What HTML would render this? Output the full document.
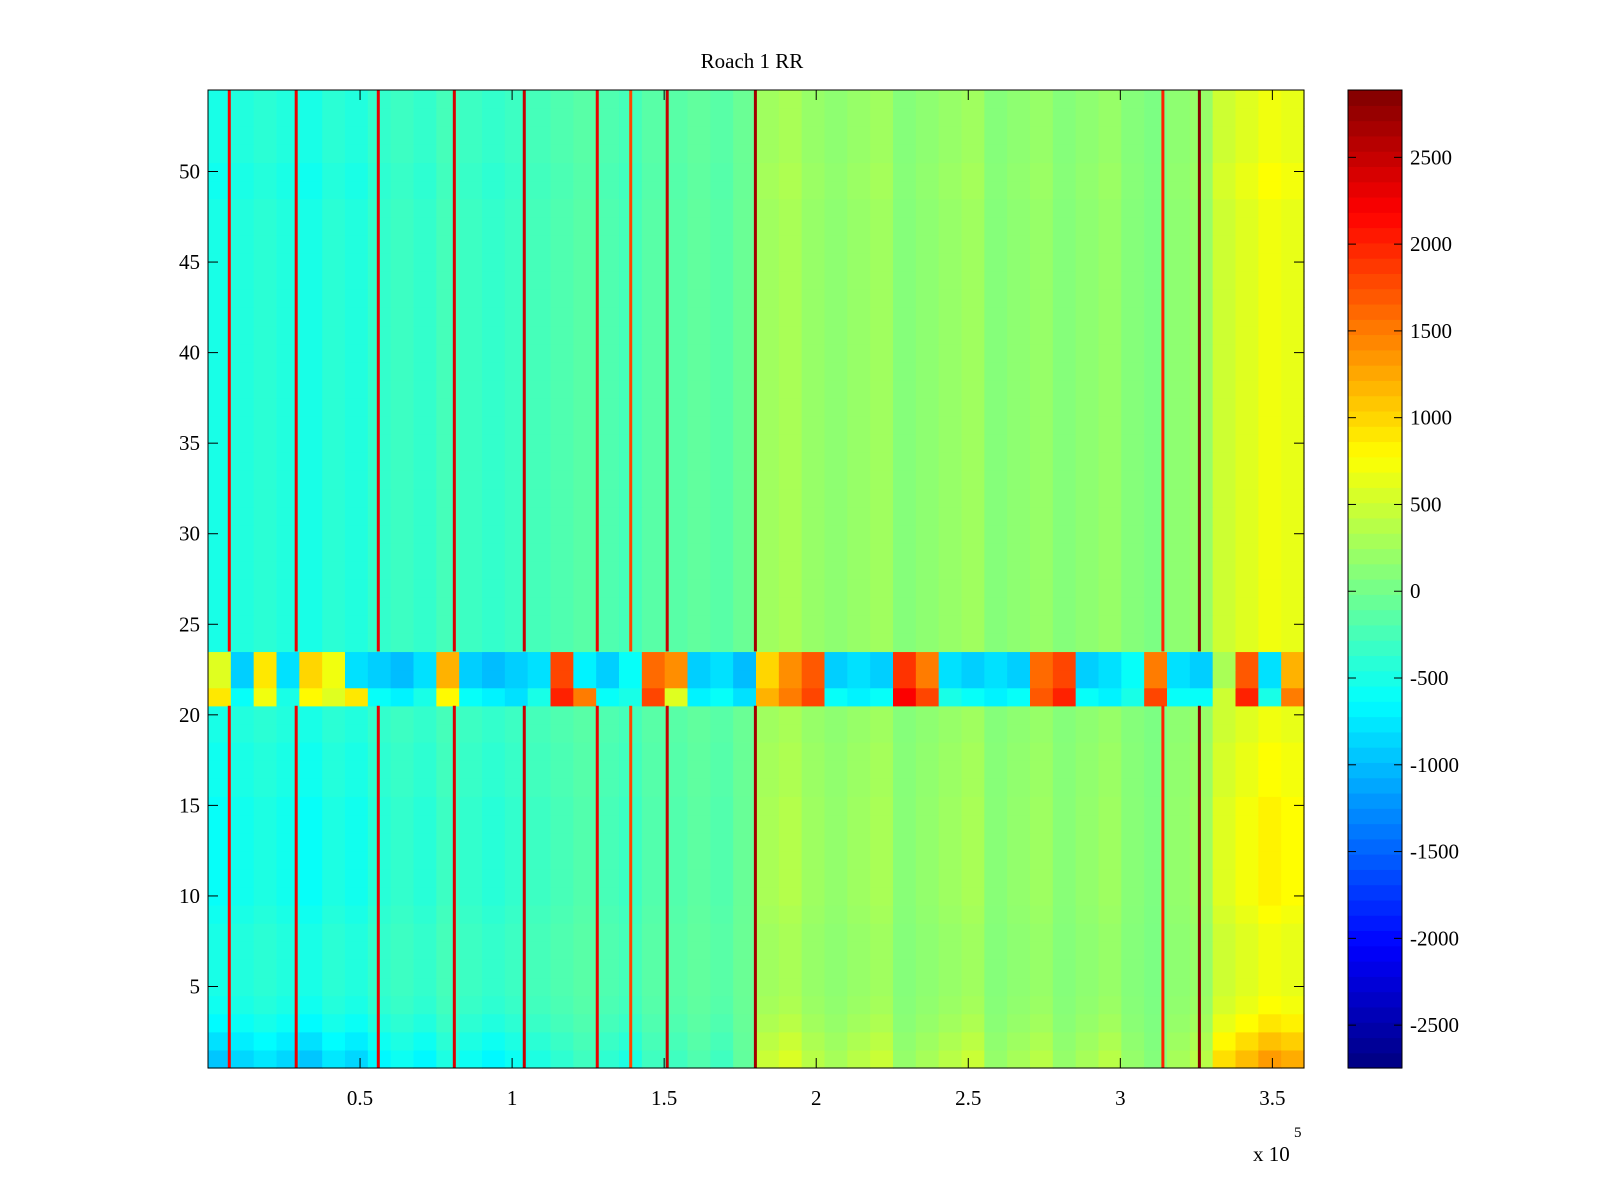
<!DOCTYPE html>
<html><head><meta charset="utf-8"><style>
html,body{margin:0;padding:0;background:#fff;}
svg{display:block;font-family:"Liberation Serif",serif;}
</style></head><body>
<svg id="fig" width="1600" height="1200" viewBox="0 0 1600 1200" xmlns="http://www.w3.org/2000/svg">
<rect width="1600" height="1200" fill="#fff"/>
<text x="752" y="68" font-size="21" text-anchor="middle">Roach 1 RR</text>
<g id="cells"></g>
<g id="axes"></g>
<g id="cbar"></g>
</svg>
<script>
// ---- data ----
const xTickValues = [0.5, 1, 1.5, 2, 2.5, 3, 3.5];
const xTickLabels = ["0.5","1","1.5","2","2.5","3","3.5"];
const yTickValues = [5,10,15,20,25,30,35,40,45,50];
const cbTickValues = [2500,2000,1500,1000,500,0,-500,-1000,-1500,-2000,-2500];
const colMean = [-500,-450,-400,-450,-500,-400,-450,-350,-300,-350,-250,-300,-350,-300,-250,-200,-150,-200,-250,-150,-150,-100,-150,-50,250,300,200,150,200,250,100,150,200,250,100,150,200,100,150,200,100,50,150,200,500,600,700,650];
const rowScale = [1.9,1.6,1.3,1.1,1,1,1,1,1.1,1.2,1.2,1.2,1.2,1.2,1.2,1.1,1.1,1.1,1,1,1,1,1,1,1,1,1,1,1,1,1,1,1,1,1,1,1,1,1,1,1,1,1,1,1,1,1,1,1.1,1.1,1,1,1,1];
const band21 = [900,-600,700,-500,800,600,900,-600,-700,-500,800,-600,-700,-800,-500,2000,1500,-600,-500,1800,600,-700,-600,-800,1200,1500,1800,-600,-700,-600,2200,1800,-500,-600,-700,-600,1700,2000,-600,-700,-500,1800,-600,-600,500,2000,-500,1500];
const band2223 = [600,-900,900,-800,1000,700,-800,-900,-1000,-800,1200,-900,-1000,-900,-800,1800,-700,-900,-600,1600,1400,-900,-800,-1000,1000,1400,1700,-900,-800,-900,1900,1500,-800,-900,-800,-900,1600,1800,-900,-800,-600,1500,-800,-900,300,1700,-800,1200];
const stripeX = [0.07,0.29,0.56,0.81,1.04,1.28,1.39,1.51,1.80,3.14,3.26];
const stripeVal = [2200,2300,2300,2400,2500,2300,1800,2500,2700,2000,2850];

// ---- scales ----
const PX0=208, PX1=1304, PY0=90, PY1=1068;
const XMAX=3.604, YMIN=0.5, YMAX=54.5;
const xs = v => PX0 + v/XMAX*(PX1-PX0);
const ys = v => PY1 - (v-YMIN)/(YMAX-YMIN)*(PY1-PY0);
const CB0=-2747, CB1=2888, CBX=1348, CBW=54;
const cs = v => PY1 - (v-CB0)/(CB1-CB0)*(PY1-PY0);
function jet(v){
  let t=(v-CB0)/(CB1-CB0); t=Math.max(0,Math.min(1,t));
  const f=x=>Math.max(0,Math.min(1,x));
  const r=f(1.5-Math.abs(4*t-3)), g=f(1.5-Math.abs(4*t-2)), b=f(1.5-Math.abs(4*t-1));
  return `rgb(${Math.round(r*255)},${Math.round(g*255)},${Math.round(b*255)})`;
}
const NS='http://www.w3.org/2000/svg';
function mk(tag,attrs,parent){const e=document.createElementNS(NS,tag);for(const k in attrs)e.setAttribute(k,attrs[k]);parent.appendChild(e);return e;}

const cells=document.getElementById('cells');
const nb=colMean.length, bw=XMAX/nb;
for(let row=1;row<=54;row++){
  for(let i=0;i<nb;i++){
    let v;
    if(row===21) v=band21[i];
    else if(row===22||row===23) v=band2223[i];
    else v=colMean[i]*rowScale[row-1];
    const x0=xs(i*bw), x1=xs((i+1)*bw);
    const r=mk('rect',{x:x0,y:ys(row+0.5),width:x1-x0+0.6,height:ys(row-0.5)-ys(row+0.5)+0.6,fill:jet(v)},cells);
    
    
  }
}
for(let k=0;k<stripeX.length;k++){
  for(const seg of [[0.5,20.5],[23.5,54.5]]){
    const r=mk('rect',{x:xs(stripeX[k])-1.5,y:ys(seg[1]),width:3,height:ys(seg[0])-ys(seg[1]),fill:jet(stripeVal[k])},cells);
    
    
  }
}
const axes=document.getElementById('axes');
mk('rect',{x:PX0,y:PY0,width:PX1-PX0,height:PY1-PY0,fill:'none',stroke:'#000','stroke-width':1},axes);
xTickValues.forEach((v,i)=>{
  const x=xs(v);
  mk('line',{x1:x,y1:PY1,x2:x,y2:PY1-10,stroke:'#000'},axes);
  mk('line',{x1:x,y1:PY0,x2:x,y2:PY0+10,stroke:'#000'},axes);
  const t=mk('text',{x:x,y:PY1+37,'font-size':21,'text-anchor':'middle'},axes);
  t.textContent=xTickLabels[i];
  
  
});
yTickValues.forEach(v=>{
  const y=ys(v);
  mk('line',{x1:PX0,y1:y,x2:PX0+10,y2:y,stroke:'#000'},axes);
  mk('line',{x1:PX1,y1:y,x2:PX1-10,y2:y,stroke:'#000'},axes);
  const t=mk('text',{x:PX0-8,y:y+7,'font-size':21,'text-anchor':'end'},axes);
  t.textContent=String(v);
  
  
});
const ex=mk('text',{x:1253,y:1161,'font-size':21},axes);
ex.textContent='x 10';


const e5=mk('text',{x:1294,y:1137,'font-size':15},axes);
e5.textContent='5';



const cb=document.getElementById('cbar');
for(let k=0;k<64;k++){
  const v0=CB0+k*(CB1-CB0)/64, v1=CB0+(k+1)*(CB1-CB0)/64;
  const r=mk('rect',{x:CBX,y:cs(v1),width:CBW,height:cs(v0)-cs(v1)+0.6,fill:jet((v0+v1)/2)},cb);
  
  
}
mk('rect',{x:CBX,y:PY0,width:CBW,height:PY1-PY0,fill:'none',stroke:'#000'},cb);
cbTickValues.forEach(v=>{
  const y=cs(v);
  mk('line',{x1:CBX,y1:y,x2:CBX+8,y2:y,stroke:'#000'},cb);
  mk('line',{x1:CBX+CBW,y1:y,x2:CBX+CBW-8,y2:y,stroke:'#000'},cb);
  const t=mk('text',{x:CBX+CBW+8,y:y+7,'font-size':21},cb);
  t.textContent=String(v);
  
  
});
</script>
</body></html>
